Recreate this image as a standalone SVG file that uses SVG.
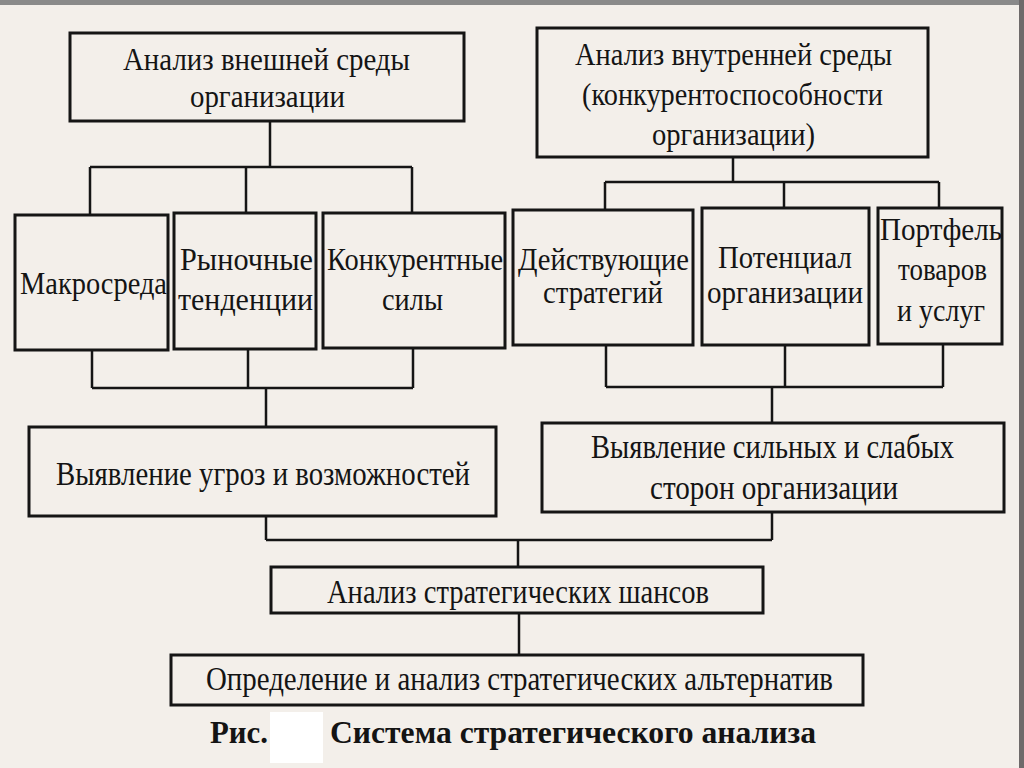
<svg xmlns="http://www.w3.org/2000/svg" width="1024" height="768" viewBox="0 0 1024 768">
<defs>
<style>
.box{fill:none;stroke:#151515;stroke-width:3}
.ln{fill:none;stroke:#151515;stroke-width:2.5}
.t{font-family:"Liberation Serif","Times New Roman",serif;font-size:31px;fill:#141414}
.l{font-size:33px}
.b{font-weight:bold;font-size:32px}
</style>
</defs>
<rect x="0" y="0" width="1024" height="768" fill="#f3efea"/>
<rect x="0" y="0" width="1024" height="5" fill="#8a8a8a"/>
<rect x="1019" y="0" width="5" height="768" fill="#6e6a6a"/>
<g id="connectors">
<path class="ln" d="M270 121 V167 M90 167 H412 M90 167 V215 M246 167 V213 M412 167 V213"/>
<path class="ln" d="M733 157 V182 M605 182 H939 M605 182 V210 M784 182 V208 M939 182 V208"/>
<path class="ln" d="M92 350 V388 M248 349 V388 M413 348 V388 M92 388 H413 M266 388 V427"/>
<path class="ln" d="M606 345 V387 M785 345 V387 M943 344 V387 M606 387 H943 M772 387 V423"/>
<path class="ln" d="M266 516 V540 M772 512 V540 M266 540 H772 M518 540 V567"/>
<path class="ln" d="M519 613 V655"/>
</g>
<g id="n_ext">
<rect class="box" x="70" y="33" width="394" height="88"/>
<text class="t" x="123" y="70" textLength="287" lengthAdjust="spacingAndGlyphs">Анализ внешней среды</text>
<text class="t" x="190" y="107" textLength="155" lengthAdjust="spacingAndGlyphs">организации</text>
</g>
<g id="n_int">
<rect class="box" x="537" y="28" width="391" height="129"/>
<text class="t" x="575" y="65" textLength="317" lengthAdjust="spacingAndGlyphs">Анализ внутренней среды</text>
<text class="t" x="582" y="105" textLength="301" lengthAdjust="spacingAndGlyphs">(конкурентоспособности</text>
<text class="t" x="652" y="145" textLength="163" lengthAdjust="spacingAndGlyphs">организации)</text>
</g>
<g id="n_macro">
<rect class="box" x="15" y="215" width="153" height="135"/>
<text class="t" x="20" y="294" textLength="147" lengthAdjust="spacingAndGlyphs">Макросреда</text>
</g>
<g id="n_market">
<rect class="box" x="174" y="213" width="142" height="136"/>
<text class="t" x="180" y="270" textLength="133" lengthAdjust="spacingAndGlyphs">Рыночные</text>
<text class="t" x="178" y="310" textLength="135" lengthAdjust="spacingAndGlyphs">тенденции</text>
</g>
<g id="n_comp">
<rect class="box" x="323" y="213" width="182" height="135"/>
<text class="t" x="327" y="270" textLength="176" lengthAdjust="spacingAndGlyphs">Конкурентные</text>
<text class="t" x="382" y="310" textLength="61" lengthAdjust="spacingAndGlyphs">силы</text>
</g>
<g id="n_strat">
<rect class="box" x="513" y="210" width="180" height="135"/>
<text class="t" x="518" y="270" textLength="171" lengthAdjust="spacingAndGlyphs">Действующие</text>
<text class="t" x="543" y="303" textLength="120" lengthAdjust="spacingAndGlyphs">стратегий</text>
</g>
<g id="n_pot">
<rect class="box" x="702" y="208" width="167" height="137"/>
<text class="t" x="718" y="268" textLength="134" lengthAdjust="spacingAndGlyphs">Потенциал</text>
<text class="t" x="707" y="303" textLength="156" lengthAdjust="spacingAndGlyphs">организации</text>
</g>
<g id="n_port">
<rect class="box" x="878" y="208" width="124" height="136"/>
<text class="t" x="880" y="240" textLength="122" lengthAdjust="spacingAndGlyphs">Портфель</text>
<text class="t" x="898" y="280" textLength="89" lengthAdjust="spacingAndGlyphs">товаров</text>
<text class="t" x="897" y="321" textLength="88" lengthAdjust="spacingAndGlyphs">и услуг</text>
</g>
<g id="n_threats">
<rect class="box" x="29" y="427" width="467" height="89"/>
<text class="t l" x="56" y="485" textLength="414" lengthAdjust="spacingAndGlyphs">Выявление угроз и возможностей</text>
</g>
<g id="n_sw">
<rect class="box" x="542" y="423" width="462" height="89"/>
<text class="t l" x="591" y="458" textLength="363" lengthAdjust="spacingAndGlyphs">Выявление сильных и слабых</text>
<text class="t l" x="650" y="499" textLength="248" lengthAdjust="spacingAndGlyphs">сторон организации</text>
</g>
<g id="n_chances">
<rect class="box" x="271" y="567" width="492" height="46"/>
<text class="t l" x="327" y="603" textLength="382" lengthAdjust="spacingAndGlyphs">Анализ стратегических шансов</text>
</g>
<g id="n_alt">
<rect class="box" x="171" y="655" width="692" height="50"/>
<text class="t l" x="206" y="690" textLength="627" lengthAdjust="spacingAndGlyphs">Определение и анализ стратегических альтернатив</text>
</g>
<g id="caption">
<rect x="270" y="712" width="53" height="51" fill="#ffffff"/>
<text class="t b" x="210" y="743" textLength="58" lengthAdjust="spacingAndGlyphs">Рис.</text>
<text class="t b" x="330" y="743" textLength="486" lengthAdjust="spacingAndGlyphs">Система стратегического анализа</text>
</g>
</svg>
